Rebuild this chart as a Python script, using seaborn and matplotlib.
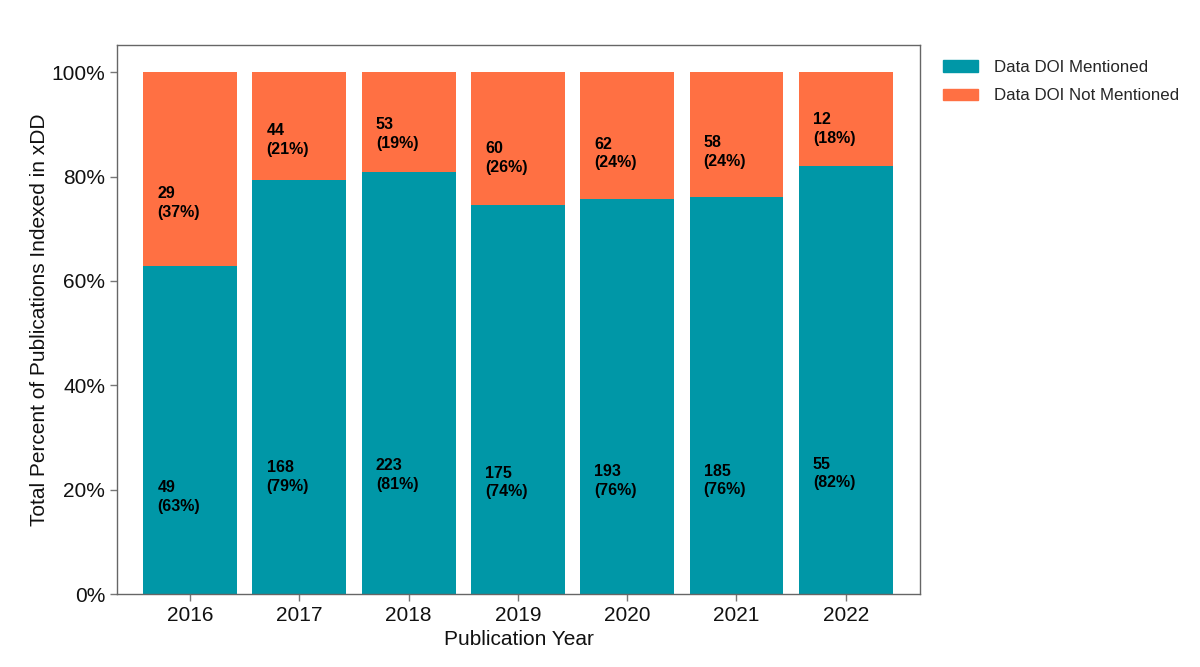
import matplotlib
matplotlib.use("Agg")
import matplotlib.pyplot as plt
import matplotlib.patches as mpatches
import seaborn as sns
import pandas as pd
import numpy as np

years = ["2016", "2017", "2018", "2019", "2020", "2021", "2022"]
mentioned = [49, 168, 223, 175, 193, 185, 55]
not_mentioned = [29, 44, 53, 60, 62, 58, 12]
series_names = ["Data DOI Mentioned", "Data DOI Not Mentioned"]
colors = ["#0097A7", "#FF7043"]

sns.set_theme(style="white")
plt.rcParams["font.family"] = ["Liberation Sans", "DejaVu Sans"]

totals = np.array(mentioned) + np.array(not_mentioned)
pct_m = np.array(mentioned) / totals * 100
pct_n = np.array(not_mentioned) / totals * 100

df = pd.DataFrame({"year": years, "mentioned_pct": pct_m, "total_pct": pct_m + pct_n})

fig = plt.figure(figsize=(12, 6.67), dpi=100)
ax = fig.add_axes([0.0975, 0.1094, 0.6692, 0.8231])

sns.barplot(data=df, x="year", y="total_pct", order=years, color=colors[1],
            width=0.86, saturation=1, ax=ax, edgecolor="none")
sns.barplot(data=df, x="year", y="mentioned_pct", order=years, color=colors[0],
            width=0.86, saturation=1, ax=ax, edgecolor="none")

for i in range(len(years)):
    ax.text(i - 0.30, 4.0 + pct_m[i] * 0.233, f"{mentioned[i]}\n({pct_m[i]:.0f}%)",
            ha="left", va="center", fontsize=11.5, fontweight="bold", color="black",
            linespacing=1.3)
    ax.text(i - 0.30, pct_m[i] + 2.3 + pct_n[i] * 0.264,
            f"{not_mentioned[i]}\n({pct_n[i]:.0f}%)",
            ha="left", va="center", fontsize=11.5, fontweight="bold", color="black",
            linespacing=1.3)

ax.set_ylim(0, 105.2)
ax.set_xlim(-0.67, 6.68)
ax.set_yticks([0, 20, 40, 60, 80, 100])
ax.set_yticklabels([f"{v}%" for v in [0, 20, 40, 60, 80, 100]])
ax.tick_params(axis="both", labelsize=15, length=5, width=1, color="#777777",
               direction="out", left=True, bottom=True, labelcolor="#111111")
ax.set_xlabel("Publication Year", fontsize=15, color="#111111", labelpad=4)
ax.set_ylabel("Total Percent of Publications Indexed in xDD", fontsize=15,
              color="#111111", labelpad=2)
for s in ax.spines.values():
    s.set_visible(True)
    s.set_color("#666666")
    s.set_linewidth(1.0)

handles = [mpatches.Patch(color=c, label=n) for c, n in zip(colors, series_names)]
fig.legend(handles=handles, loc="upper left", bbox_to_anchor=(0.773, 0.933),
           frameon=False, fontsize=12.2, handlelength=2.1, handleheight=0.7,
           handletextpad=0.9, labelspacing=0.8)

fig.savefig("out.png", dpi=100)
